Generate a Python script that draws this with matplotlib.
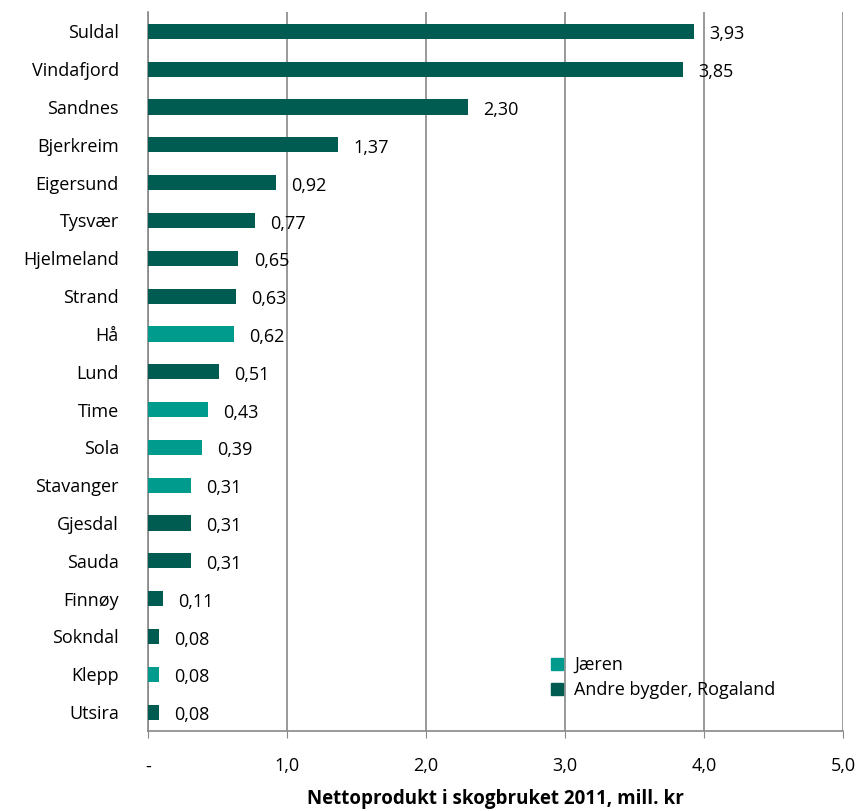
import numpy as np
import matplotlib.pyplot as plt
from matplotlib.patches import Patch

plt.rcParams['font.family'] = ['Open Sans', 'DejaVu Sans']

kommuner = ['Suldal', 'Vindafjord', 'Sandnes', 'Bjerkreim', 'Eigersund', 'Tysvær',
            'Hjelmeland', 'Strand', 'Hå', 'Lund', 'Time', 'Sola', 'Stavanger',
            'Gjesdal', 'Sauda', 'Finnøy', 'Sokndal', 'Klepp', 'Utsira']
verdier = [3.93, 3.85, 2.30, 1.37, 0.92, 0.77, 0.65, 0.63, 0.62, 0.51, 0.43, 0.39,
           0.31, 0.31, 0.31, 0.11, 0.08, 0.08, 0.08]
jaeren = ['Hå', 'Time', 'Sola', 'Stavanger', 'Klepp']
xticks = [0, 1, 2, 3, 4, 5]
xticklabels = ['-', '1,0', '2,0', '3,0', '4,0', '5,0']

c_jaeren = '#009B8D'
c_andre = '#005C50'

fig = plt.figure(figsize=(8.59, 8.11), dpi=100)
ax = fig.add_axes([0.1723, 0.0986, 0.809, 0.886])

y = np.arange(len(kommuner))
farger = [c_jaeren if k in jaeren else c_andre for k in kommuner]
ax.barh(y, verdier, height=0.4, color=farger, zorder=3)

for yi, v in zip(y, verdier):
    ax.text(v + 0.11, yi + 0.08, f'{v:.2f}'.replace('.', ','), va='center', ha='left',
            fontsize=13, zorder=4)

ax.set_ylim(len(kommuner) - 0.5, -0.5)
ax.set_xlim(0, 5)
ax.set_yticks(y)
ax.set_yticklabels(kommuner, fontsize=13)
ax.tick_params(axis='y', length=0, pad=21)
ax.set_xticks(xticks)
ax.set_xticklabels(xticklabels, fontsize=13)
ax.tick_params(axis='x', length=5, color='#888888', pad=14, direction='out')
ax.xaxis.grid(True, color='#888888', linewidth=1.2, zorder=0)

for s in ['top', 'right']:
    ax.spines[s].set_visible(False)
for s in ['left', 'bottom']:
    ax.spines[s].set_color('#888888')
    ax.spines[s].set_linewidth(1.2)

ax.set_xlabel('Nettoprodukt i skogbruket 2011, mill. kr', fontsize=13.5,
              fontweight='bold', labelpad=10)

handles = [Patch(color=c_jaeren, label='Jæren'),
           Patch(color=c_andre, label='Andre bygder, Rogaland')]
ax.legend(handles=handles, loc='lower left', bbox_to_anchor=(0.557, 0.022), frameon=False,
          fontsize=13, handlelength=0.65, handleheight=0.65, handletextpad=0.6,
          labelspacing=0.38)

fig.savefig('out.png', dpi=100)
